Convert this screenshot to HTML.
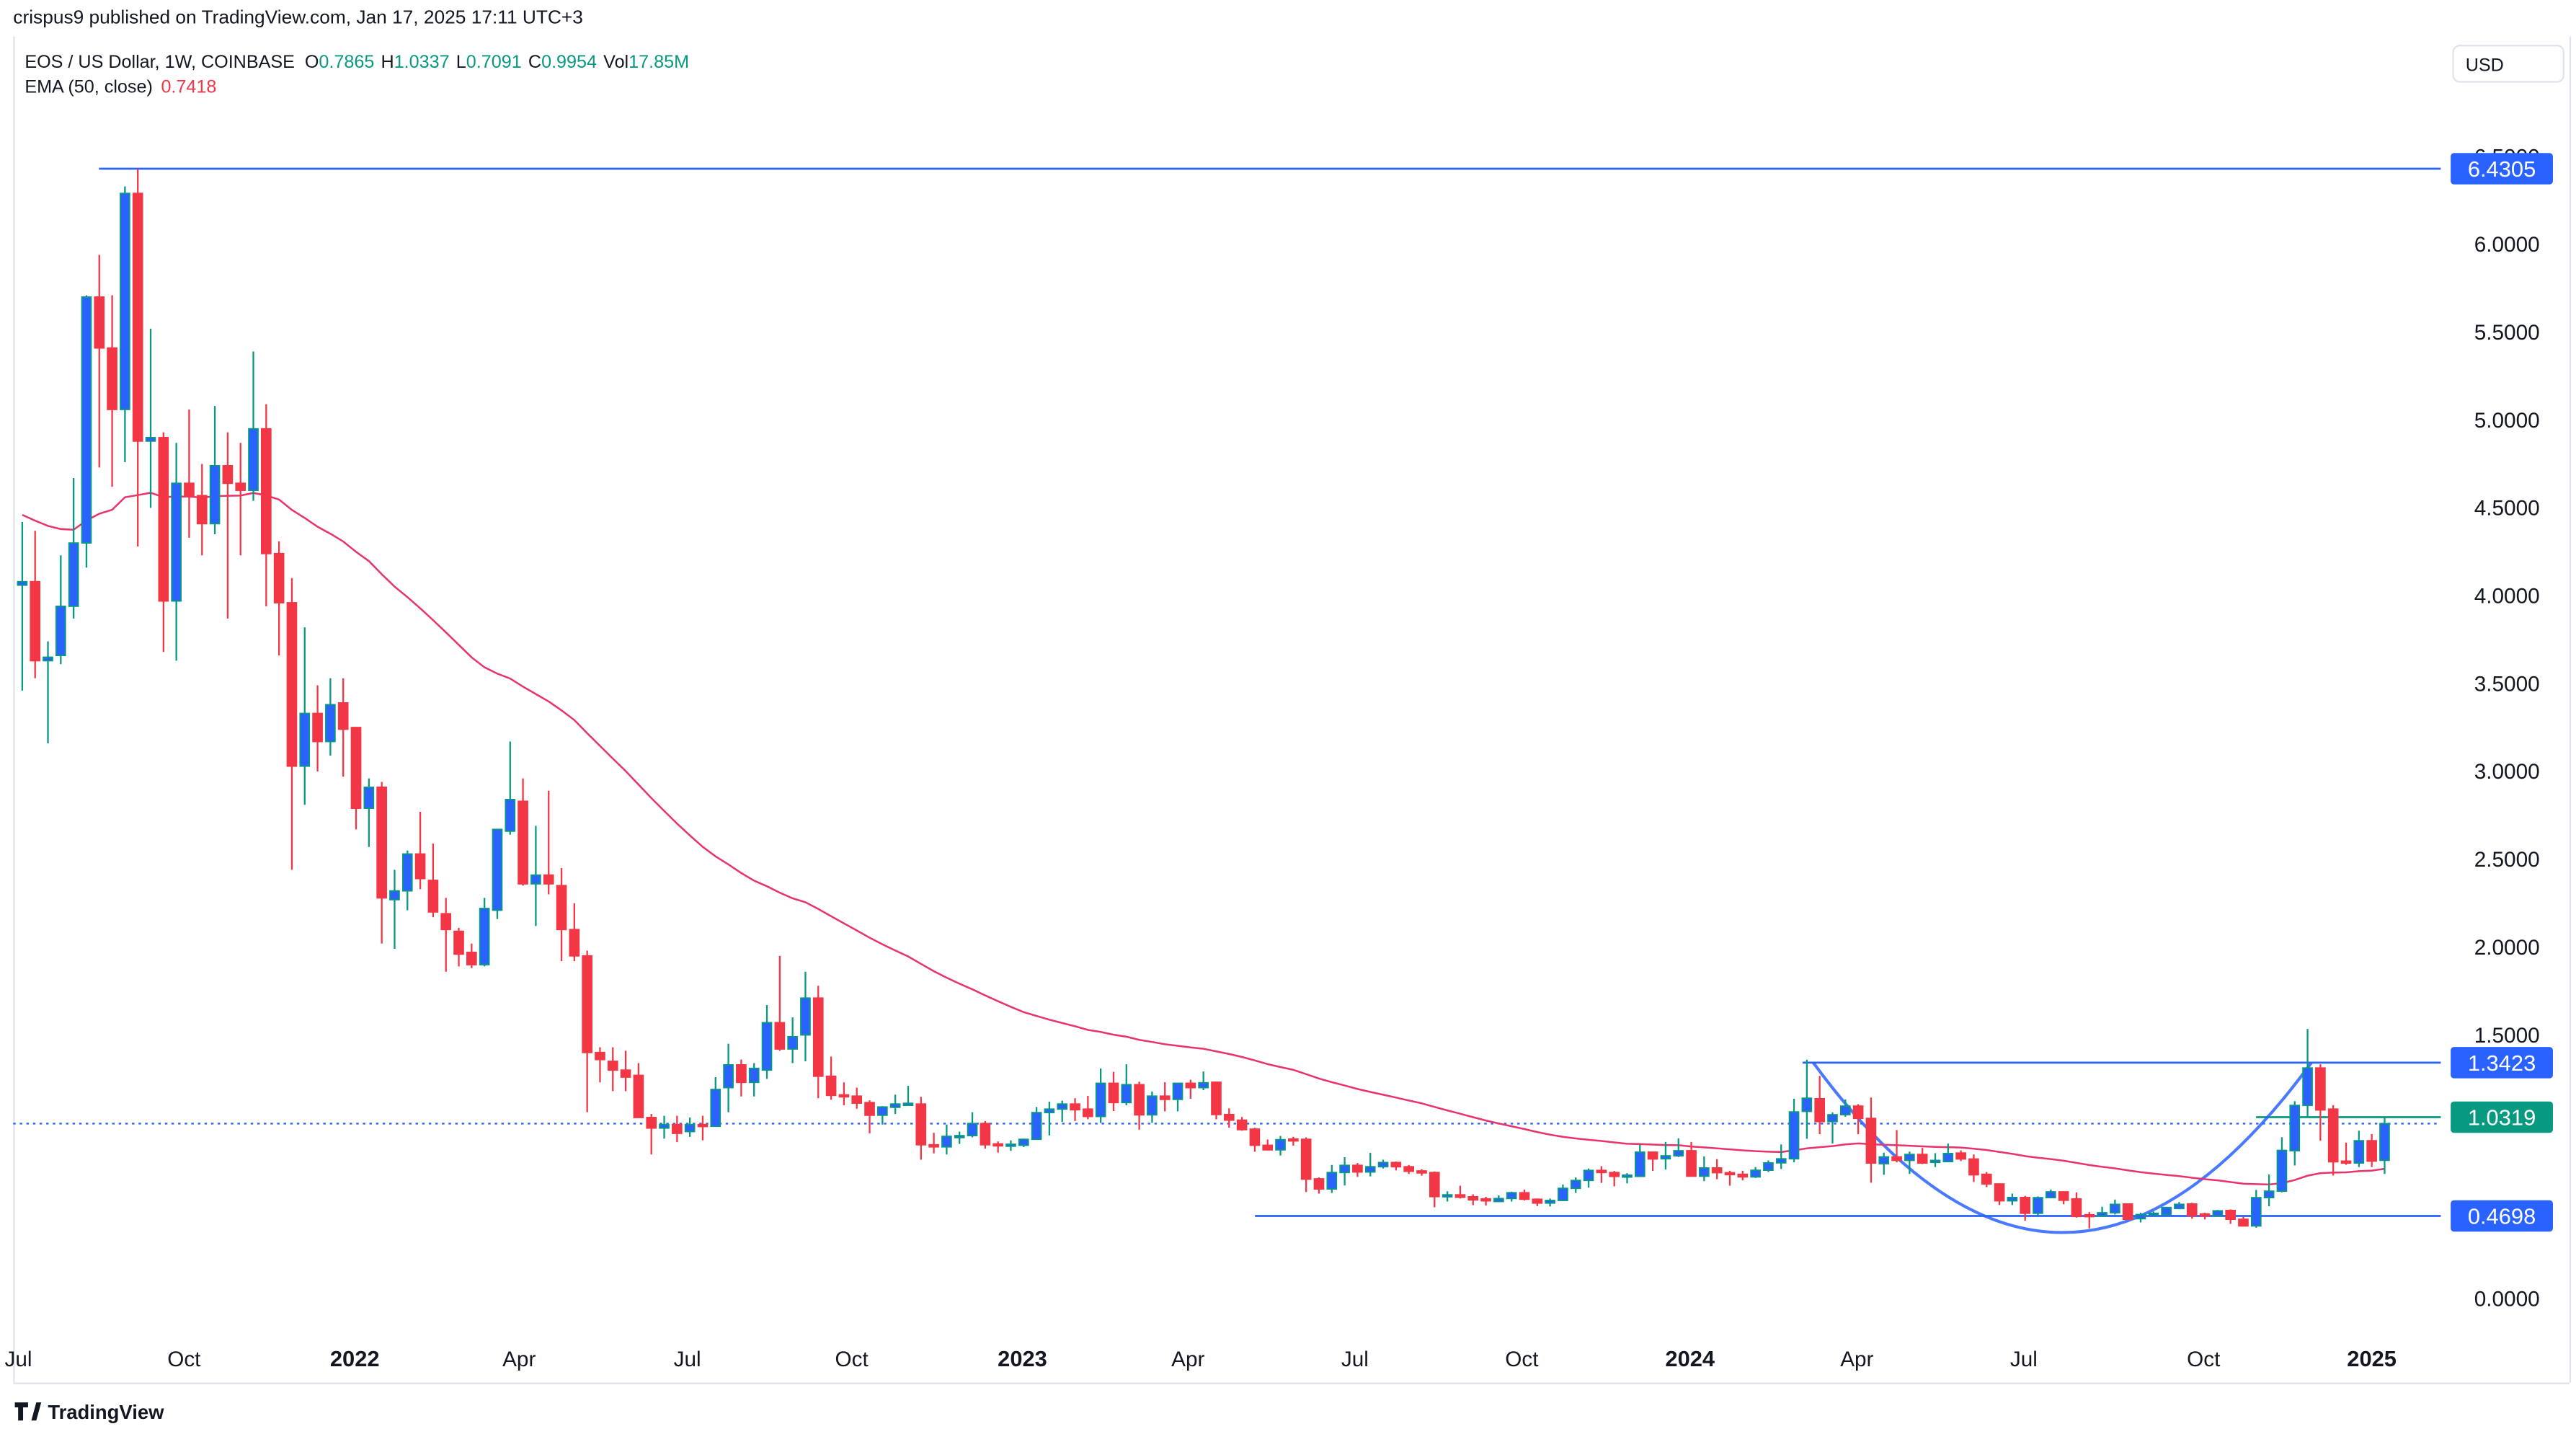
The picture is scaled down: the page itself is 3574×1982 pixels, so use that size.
<!DOCTYPE html>
<html><head><meta charset="utf-8"><style>
html,body{margin:0;padding:0;background:#fff;}
svg{display:block;font-family:"Liberation Sans",sans-serif;}
</style></head><body>
<svg id="chart" width="3574" height="1982" viewBox="0 0 1562 866" xmlns="http://www.w3.org/2000/svg">
<rect x="0" y="0" width="1562" height="866" fill="#fff"/>
<line x1="8.5" y1="22" x2="8.5" y2="838" stroke="#e0e3eb" stroke-width="1"/>
<line x1="1558.5" y1="22" x2="1558.5" y2="838" stroke="#e0e3eb" stroke-width="1"/>
<line x1="8" y1="838.5" x2="1558" y2="838.5" stroke="#e0e3eb" stroke-width="1"/>
<text x="8" y="14" font-size="11.5" fill="#131722">crispus9 published on TradingView.com, Jan 17, 2025 17:11 UTC+3</text>
<text x="15" y="41" font-size="11" fill="#131722">EOS / US Dollar, 1W, COINBASE <tspan dx="3">O</tspan><tspan fill="#089981">0.7865</tspan><tspan dx="4">H</tspan><tspan fill="#089981">1.0337</tspan><tspan dx="4">L</tspan><tspan fill="#089981">0.7091</tspan><tspan dx="4">C</tspan><tspan fill="#089981">0.9954</tspan><tspan dx="4">Vol</tspan><tspan fill="#089981">17.85M</tspan></text>
<text x="15" y="56" font-size="11" fill="#131722">EMA (50, close) <tspan fill="#f23645" dx="2">0.7418</tspan></text>
<g><rect x="1487.5" y="27.5" width="67" height="22" rx="4" fill="#fff" stroke="#e0e3eb"/><text x="1495" y="43" font-size="11" fill="#131722">USD</text></g>
<g id="yaxis"></g>
<g id="xaxis"></g>
<g id="lines"></g>
<g id="ema"></g>
<g id="candles"></g>
<g id="labels"></g>
<g><path d="M9 850h8v3h-3v8h-3v-8h-2z M19 861l3-11h3l-3 11z" fill="#131722"/><text x="29" y="860" font-size="12" font-weight="bold" fill="#131722">TradingView</text></g>
</svg>
<script>
const opens=[4.06,4.08,3.63,3.66,3.94,4.30,5.70,5.41,5.06,6.29,4.88,4.90,3.97,4.64,4.57,4.41,4.74,4.64,4.60,4.95,4.24,3.96,3.03,3.33,3.17,3.39,3.25,2.79,2.91,2.27,2.32,2.53,2.38,2.19,2.09,1.97,1.90,2.21,2.66,2.83,2.36,2.41,2.35,2.10,1.95,1.40,1.35,1.30,1.27,1.03,0.97,0.99,0.95,0.99,0.98,1.20,1.33,1.23,1.30,1.57,1.42,1.50,1.71,1.265,1.159,1.152,1.115,1.043,1.088,1.107,1.107,0.875,0.863,0.923,0.927,0.996,0.88,0.872,0.872,0.906,1.058,1.078,1.107,1.078,1.036,1.225,1.115,1.217,1.045,1.152,1.133,1.225,1.20,1.231,1.047,1.015,0.964,0.872,0.846,0.908,0.906,0.681,0.623,0.717,0.758,0.72,0.75,0.774,0.75,0.726,0.717,0.58,0.59,0.579,0.567,0.552,0.569,0.602,0.565,0.543,0.558,0.627,0.672,0.729,0.717,0.695,0.695,0.833,0.795,0.812,0.841,0.696,0.743,0.716,0.707,0.692,0.73,0.772,0.795,1.065,1.137,1.007,1.046,1.095,1.025,0.767,0.806,0.786,0.82,0.782,0.779,0.828,0.794,0.707,0.652,0.556,0.575,0.485,0.574,0.607,0.567,0.477,0.469,0.488,0.538,0.454,0.478,0.478,0.512,0.538,0.481,0.47,0.501,0.451,0.413,0.574,0.611,0.841,1.099,1.312,1.078,0.782,0.771,0.898,0.7865];
const highs=[4.42,4.37,3.74,4.23,4.67,5.71,5.94,5.71,6.33,6.43,5.52,4.93,4.87,5.06,4.75,5.08,4.93,4.87,5.39,5.09,4.31,4.10,3.82,3.49,3.53,3.53,3.25,2.96,2.94,2.44,2.55,2.77,2.59,2.28,2.11,2.02,2.28,2.67,3.17,2.96,2.69,2.89,2.45,2.25,1.98,1.43,1.43,1.41,1.34,1.05,1.04,1.04,1.03,1.04,1.26,1.45,1.36,1.34,1.67,1.95,1.60,1.86,1.78,1.377,1.23,1.20,1.128,1.095,1.16,1.21,1.148,0.943,0.99,0.95,1.06,1.01,0.894,0.90,0.91,1.09,1.12,1.126,1.14,1.153,1.309,1.29,1.333,1.234,1.178,1.231,1.228,1.245,1.292,1.234,1.082,1.033,0.972,0.905,0.925,0.92,0.917,0.689,0.76,0.804,0.771,0.829,0.79,0.78,0.76,0.736,0.723,0.61,0.642,0.593,0.579,0.587,0.608,0.62,0.569,0.569,0.649,0.689,0.74,0.753,0.726,0.713,0.876,0.835,0.891,0.912,0.891,0.809,0.793,0.727,0.727,0.748,0.786,0.877,1.137,1.359,1.267,1.059,1.133,1.106,1.144,0.83,0.959,0.836,0.857,0.827,0.882,0.843,0.82,0.72,0.655,0.597,0.584,0.581,0.62,0.611,0.604,0.492,0.522,0.563,0.538,0.488,0.495,0.522,0.549,0.545,0.488,0.504,0.507,0.467,0.618,0.706,0.918,1.123,1.534,1.333,1.1,0.887,0.955,0.936,1.0337];
const lows=[3.46,3.53,3.16,3.61,3.87,4.16,4.73,4.62,4.76,4.28,4.50,3.68,3.63,4.33,4.23,4.35,3.87,4.23,4.54,3.94,3.66,2.44,2.81,3.00,3.09,2.97,2.67,2.57,2.02,1.99,2.21,2.33,2.17,1.86,1.89,1.88,1.89,2.16,2.64,2.35,2.12,2.30,1.92,1.92,1.06,1.23,1.18,1.18,1.03,0.82,0.91,0.89,0.92,0.90,0.98,1.06,1.15,1.15,1.25,1.41,1.34,1.35,1.14,1.131,1.10,1.08,0.94,0.99,1.05,1.10,0.79,0.826,0.82,0.88,0.917,0.853,0.83,0.84,0.862,0.904,0.928,1.006,1.01,1.02,0.999,1.067,1.10,0.961,1.0,1.065,1.065,1.137,1.186,1.02,0.972,0.955,0.835,0.842,0.814,0.87,0.606,0.597,0.601,0.643,0.692,0.695,0.74,0.729,0.709,0.699,0.519,0.552,0.569,0.531,0.529,0.549,0.552,0.558,0.526,0.524,0.556,0.601,0.631,0.658,0.638,0.655,0.695,0.726,0.734,0.805,0.696,0.668,0.679,0.642,0.672,0.686,0.72,0.737,0.775,0.909,0.935,0.882,1.035,0.935,0.659,0.704,0.775,0.709,0.765,0.748,0.779,0.782,0.663,0.634,0.532,0.532,0.443,0.474,0.573,0.536,0.46,0.399,0.467,0.478,0.447,0.433,0.474,0.474,0.508,0.454,0.45,0.467,0.425,0.41,0.403,0.525,0.604,0.757,1.028,0.898,0.7,0.761,0.748,0.748,0.7091];
const closes=[4.08,3.63,3.65,3.94,4.30,5.70,5.41,5.06,6.29,4.88,4.90,3.97,4.64,4.57,4.41,4.74,4.64,4.60,4.95,4.24,3.96,3.03,3.33,3.17,3.38,3.24,2.79,2.91,2.28,2.32,2.53,2.39,2.20,2.10,1.96,1.90,2.22,2.67,2.84,2.36,2.41,2.36,2.10,1.95,1.40,1.36,1.30,1.26,1.03,0.97,0.99,0.94,0.99,0.98,1.19,1.33,1.23,1.31,1.57,1.42,1.49,1.71,1.265,1.156,1.152,1.112,1.043,1.09,1.107,1.111,0.875,0.863,0.923,0.927,0.996,0.875,0.875,0.878,0.906,1.058,1.078,1.107,1.074,1.036,1.225,1.115,1.217,1.045,1.152,1.133,1.225,1.20,1.228,1.047,1.015,0.961,0.872,0.846,0.904,0.904,0.679,0.623,0.717,0.758,0.72,0.75,0.774,0.75,0.724,0.717,0.58,0.59,0.576,0.561,0.561,0.569,0.602,0.565,0.543,0.558,0.627,0.672,0.729,0.717,0.695,0.702,0.833,0.794,0.812,0.841,0.696,0.743,0.716,0.705,0.692,0.73,0.772,0.795,1.062,1.14,1.007,1.046,1.095,1.025,0.771,0.806,0.786,0.82,0.771,0.786,0.825,0.794,0.704,0.652,0.556,0.575,0.485,0.574,0.607,0.559,0.467,0.471,0.488,0.536,0.451,0.478,0.485,0.518,0.536,0.471,0.474,0.499,0.451,0.413,0.574,0.611,0.843,1.099,1.312,1.073,0.778,0.771,0.898,0.782,0.9954];
const yTicks=[0,0.5,1,1.5,2,2.5,3,3.5,4,4.5,5,5.5,6,6.5];
const xTickLabels=["Jul","Oct","2022","Apr","Jul","Oct","2023","Apr","Jul","Oct","2024","Apr","Jul","Oct","2025"];
const xTickWeeks=[-0.3,12.6,25.9,38.7,51.8,64.6,77.9,90.8,103.8,116.8,129.9,142.9,155.9,169.9,183.0];
const levelPrices=[6.4305,1.3423,1.0319,0.4698];
const emaSeed=4.46;

const NS="http://www.w3.org/2000/svg";
const X0=13.5, DX=7.785, Y0=787, KY=106.5;
const xs=i=>X0+i*DX;
const ys=p=>Y0-KY*p;
function mk(tag,attrs,parent){const e=document.createElementNS(NS,tag);for(const k in attrs)e.setAttribute(k,attrs[k]);parent.appendChild(e);return e;}

const yaxis=document.getElementById('yaxis');
yTicks.forEach(v=>{
  const t=mk('text',{x:1540,y:ys(v)+4.5,'font-size':13,fill:'#131722','text-anchor':'end'},yaxis);
  
  
  t.textContent=v.toFixed(4);
});
const xaxis=document.getElementById('xaxis');
xTickLabels.forEach((l,i)=>{
  const bold=/^\d{4}$/.test(l);
  const t=mk('text',{x:xs(xTickWeeks[i]),y:828,'font-size':bold?13.5:13,'font-weight':bold?'bold':'normal',fill:'#131722','text-anchor':'middle'},xaxis);
  
  
  t.textContent=l;
});

const lines=document.getElementById('lines');
const cur=closes[closes.length-1];
const dl=mk('line',{x1:8,x2:1480,y1:ys(cur),y2:ys(cur),stroke:'#2962ff','stroke-width':1,'stroke-dasharray':'1.5 2.5'},lines);


const levelStart=[60,1093,1368,761];
const levelColors=['#2962ff','#2962ff','#089981','#2962ff'];
levelPrices.forEach((p,i)=>{
  const l=mk('line',{x1:levelStart[i],x2:1480,y1:ys(p),y2:ys(p),stroke:levelColors[i],'stroke-width':1.2},lines);
  
  
});
// cup arc from high at 1.3423 to local top
const cupStart=[xs(139.5),ys(1.3423)], cupEnd=[xs(178.3),ys(1.3423)];
const cup=mk('path',{d:`M${cupStart[0]},${cupStart[1]} Q${(cupStart[0]+cupEnd[0])/2},${ys(0.4698)+113} ${cupEnd[0]},${cupEnd[1]}`,fill:'none',stroke:'#2962ff','stroke-width':1.8,opacity:0.85},lines);



// EMA
let e=emaSeed;const a=2/51;const pts=[];
closes.forEach((c,i)=>{e=i===0?emaSeed:e+a*(c-e);pts.push(xs(i).toFixed(1)+','+ys(e).toFixed(1));});
const emaPath=mk('polyline',{points:pts.join(' '),fill:'none',stroke:'#e8336b','stroke-width':1.1},document.getElementById('ema'));



const cg=document.getElementById('candles');
const W=5.6;
closes.forEach((c,i)=>{
  const o=opens[i],up=c>=o,x=xs(i);
  const g=mk('g',{},cg);
  
  
  const wc=up?'#089981':'#f23645';
  mk('line',{x1:x,x2:x,y1:ys(highs[i]),y2:ys(lows[i]),stroke:wc,'stroke-width':1},g);
  const top=ys(Math.max(o,c)),h=Math.max(1.2,Math.abs(ys(o)-ys(c)));
  mk('rect',{x:x-W/2,y:top,width:W,height:h,fill:up?'#2962ff':'#f23645',stroke:up?'#089981':'#f23645','stroke-width':0.8},g);
});

const lg=document.getElementById('labels');
levelPrices.forEach((p,i)=>{
  const g=mk('g',{},lg);
  
  
  mk('rect',{x:1486,y:ys(p)-9.5,width:62,height:19,rx:2,fill:levelColors[i]},g);
  const t=mk('text',{x:1517,y:ys(p)+4.8,'font-size':13.5,fill:'#fff','text-anchor':'middle'},g);
  t.textContent=p.toFixed(4);
});
</script>
</body></html>
